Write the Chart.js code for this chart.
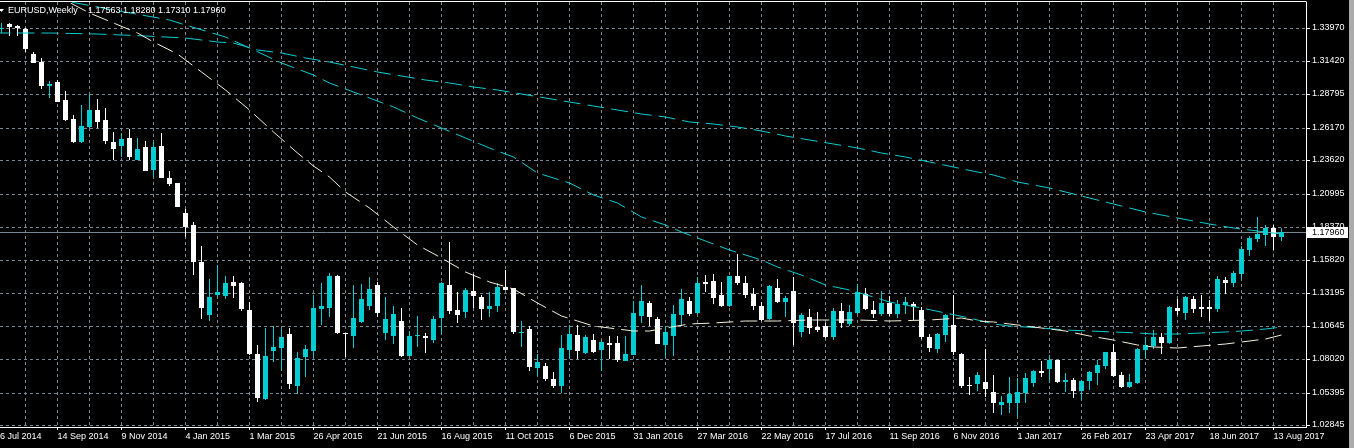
<!DOCTYPE html>
<html>
<head>
<meta charset="utf-8">
<title>EURUSD, Weekly</title>
<script src="https://cdn.jsdelivr.net/npm/chart.js@4.4.1/dist/chart.umd.min.js"></script>
<style>
    html, body { margin: 0; padding: 0; background: #000; overflow: hidden; }
    canvas { display: block; }
</style>
</head>
<body>
<canvas id="priceChart" width="1354" height="448"></canvas>
<script>
// symbol + tick labels
const symbolName = 'EURUSD,Weekly';
const firstDateLabel = '6 Jul 2014';
const dateLabels = ['14 Sep 2014', '9 Nov 2014', '4 Jan 2015', '1 Mar 2015', '26 Apr 2015', '21 Jun 2015',
    '16 Aug 2015', '11 Oct 2015', '6 Dec 2015', '31 Jan 2016', '27 Mar 2016', '22 May 2016', '17 Jul 2016',
    '11 Sep 2016', '6 Nov 2016', '1 Jan 2017', '26 Feb 2017', '23 Apr 2017', '18 Jun 2017', '13 Aug 2017'];
const priceLabels = ['1.33970', '1.31420', '1.28795', '1.26170', '1.23620', '1.20995', '1.18370',
    '1.15820', '1.13195', '1.10645', '1.08020', '1.05395', '1.02845'];

// weekly candles, first one = week of 27 Jul 2014
const openPrices = [
    1.3394, 1.3431, 1.3415, 1.3391, 1.3195, 1.3135, 1.2944, 1.2973, 1.2834, 1.2685,
    1.2507, 1.2625, 1.2756, 1.2678, 1.2503, 1.2476, 1.2536, 1.2364, 1.2468, 1.2285,
    1.2476, 1.2221, 1.2181, 1.1950, 1.1854, 1.1561, 1.1147, 1.1304, 1.1296, 1.1404,
    1.1399, 1.1187, 1.0839, 1.0488, 1.0865, 1.0891, 1.0998, 1.0590, 1.0820, 1.0868,
    1.1197, 1.1205, 1.1453, 1.1009, 1.0985, 1.1095, 1.1221, 1.1381, 1.1006, 1.0985,
    1.1100, 1.0828, 1.0985, 1.0980, 1.0954, 1.1126, 1.1383, 1.1187, 1.1169, 1.1336,
    1.1289, 1.1197, 1.1221, 1.1370, 1.1359, 1.1006, 1.1038, 1.0734, 1.0747, 1.0645,
    1.0593, 1.0875, 1.0991, 1.0852, 1.0951, 1.0875, 1.0928, 1.0928, 1.0789, 1.0836,
    1.1142, 1.1242, 1.1116, 1.0915, 1.0985, 1.1147, 1.1257, 1.1163, 1.1406, 1.1414,
    1.1304, 1.1221, 1.1453, 1.1399, 1.1312, 1.1218, 1.1119, 1.1359, 1.1252, 1.1336,
    1.1017, 1.1134, 1.1056, 1.1064, 1.0977, 1.1179, 1.1079, 1.1166, 1.1310, 1.1187,
    1.1158, 1.1242, 1.1158, 1.1228, 1.1234, 1.1187, 1.0977, 1.0883, 1.0993, 1.1071,
    1.0842, 1.0596, 1.0609, 1.0624, 1.0546, 1.0441, 1.0459, 1.0459, 1.0533, 1.0612,
    1.0708, 1.0722, 1.0794, 1.0624, 1.0638, 1.0554, 1.0627, 1.0695, 1.0750, 1.0857,
    1.0677, 1.0580, 1.0616, 1.0875, 1.0907, 1.0975, 1.0928, 1.1202, 1.1166, 1.1273,
    1.1213, 1.1213, 1.1197, 1.1422, 1.1399, 1.1469, 1.1658, 1.1744, 1.1775, 1.1830,
    1.17563
];
const highPrices = [
    1.3441, 1.3435, 1.3423, 1.3397, 1.3213, 1.3162, 1.2983, 1.2991, 1.2907, 1.2717,
    1.2793, 1.2882, 1.2840, 1.2770, 1.2581, 1.2578, 1.2607, 1.2534, 1.2513, 1.2507,
    1.2573, 1.2277, 1.2185, 1.1977, 1.1875, 1.1689, 1.1430, 1.1537, 1.1453, 1.1453,
    1.1406, 1.1252, 1.0912, 1.1043, 1.1061, 1.1036, 1.1043, 1.0857, 1.0912, 1.1304,
    1.1399, 1.1477, 1.1461, 1.1010, 1.1383, 1.1391, 1.1446, 1.1409, 1.1291, 1.1221,
    1.1205, 1.1024, 1.1142, 1.1006, 1.1142, 1.1403, 1.1723, 1.1330, 1.1362, 1.1469,
    1.1307, 1.1326, 1.1397, 1.1501, 1.1363, 1.1100, 1.1064, 1.0841, 1.0773, 1.0700,
    1.0993, 1.1069, 1.1069, 1.0991, 1.0998, 1.0951, 1.0985, 1.0983, 1.0983, 1.1257,
    1.1383, 1.1257, 1.1129, 1.1061, 1.1226, 1.1352, 1.1291, 1.1446, 1.1461, 1.1469,
    1.1406, 1.1457, 1.1626, 1.1453, 1.1359, 1.1249, 1.1383, 1.1430, 1.1296, 1.1446,
    1.1166, 1.1195, 1.1171, 1.1087, 1.1202, 1.1242, 1.1226, 1.1391, 1.1359, 1.1260,
    1.1336, 1.1296, 1.1265, 1.1289, 1.1249, 1.1213, 1.1001, 1.1009, 1.1155, 1.1304,
    1.0852, 1.0663, 1.0703, 1.0878, 1.0677, 1.0512, 1.0662, 1.0654, 1.0690, 1.0716,
    1.0787, 1.0834, 1.0798, 1.0695, 1.0651, 1.0638, 1.0708, 1.0794, 1.0861, 1.0920,
    1.0698, 1.0685, 1.0885, 1.0975, 1.1030, 1.1006, 1.1221, 1.1273, 1.1296, 1.1296,
    1.1304, 1.1265, 1.1453, 1.1446, 1.1493, 1.1689, 1.1767, 1.1916, 1.1854, 1.1854,
    1.18280
];
const lowPrices = [
    1.3358, 1.3337, 1.3337, 1.3213, 1.3125, 1.2918, 1.2852, 1.2818, 1.2672, 1.2499,
    1.2499, 1.2614, 1.2612, 1.2490, 1.2367, 1.2385, 1.2364, 1.2360, 1.2274, 1.2228,
    1.2219, 1.2160, 1.1991, 1.1757, 1.1461, 1.1116, 1.1103, 1.1291, 1.1273, 1.1283,
    1.1181, 1.0834, 1.0467, 1.0483, 1.0776, 1.0716, 1.0567, 1.0524, 1.0663, 1.0816,
    1.1072, 1.1134, 1.0998, 1.0821, 1.0891, 1.1085, 1.1189, 1.1134, 1.0951, 1.0922,
    1.0821, 1.0821, 1.0899, 1.0852, 1.0930, 1.1001, 1.1158, 1.1085, 1.1126, 1.1200,
    1.1111, 1.1134, 1.1174, 1.1340, 1.1001, 1.0899, 1.0711, 1.0671, 1.0627, 1.0572,
    1.0533, 1.0800, 1.0805, 1.0845, 1.0852, 1.0711, 1.0805, 1.0781, 1.0787, 1.0830,
    1.1087, 1.1064, 1.0918, 1.0818, 1.0828, 1.1064, 1.1142, 1.1155, 1.1328, 1.1236,
    1.1213, 1.1213, 1.1383, 1.1283, 1.1187, 1.1100, 1.1111, 1.1242, 1.1134, 1.0910,
    1.0977, 1.1001, 1.1017, 1.0969, 1.0954, 1.1048, 1.1064, 1.1158, 1.1184, 1.1126,
    1.1142, 1.1142, 1.1126, 1.1158, 1.1111, 1.0962, 1.0860, 1.0852, 1.0938, 1.0836,
    1.0577, 1.0522, 1.0554, 1.0502, 1.0377, 1.0361, 1.0377, 1.0345, 1.0455, 1.0585,
    1.0663, 1.0624, 1.0612, 1.0546, 1.0496, 1.0486, 1.0559, 1.0601, 1.0724, 1.0659,
    1.0575, 1.0575, 1.0610, 1.0812, 1.0881, 1.0842, 1.0922, 1.1147, 1.1111, 1.1166,
    1.1132, 1.1103, 1.1174, 1.1312, 1.1367, 1.1430, 1.1610, 1.1720, 1.1689, 1.1658,
    1.17310
];
const closePrices = [
    1.3399, 1.3405, 1.3399, 1.3235, 1.3127, 1.2944, 1.2960, 1.2821, 1.2678, 1.2507,
    1.2630, 1.2756, 1.2664, 1.2515, 1.2450, 1.2528, 1.2390, 1.2450, 1.2280, 1.2466,
    1.2225, 1.2175, 1.1997, 1.1840, 1.1566, 1.1205, 1.1291, 1.1326, 1.1399, 1.1377,
    1.1195, 1.0844, 1.0496, 1.0826, 1.0896, 1.0975, 1.0609, 1.0810, 1.0881, 1.1202,
    1.1221, 1.1453, 1.1004, 1.0996, 1.1124, 1.1273, 1.1352, 1.1163, 1.1116, 1.1155,
    1.0828, 1.0985, 1.0993, 1.0969, 1.1116, 1.1399, 1.1181, 1.1150, 1.1346, 1.1299,
    1.1197, 1.1221, 1.1370, 1.1346, 1.1014, 1.1014, 1.0742, 1.0779, 1.0648, 1.0593,
    1.0886, 1.0998, 1.0868, 1.0975, 1.0860, 1.0936, 1.0915, 1.0797, 1.0842, 1.1163,
    1.1257, 1.1134, 1.0922, 1.1014, 1.1155, 1.1273, 1.1158, 1.1399, 1.1391, 1.1283,
    1.1221, 1.1453, 1.1399, 1.1304, 1.1221, 1.1111, 1.1375, 1.1249, 1.1281, 1.1087,
    1.1147, 1.1048, 1.1032, 1.0977, 1.1179, 1.1085, 1.1171, 1.1326, 1.1195, 1.1158,
    1.1242, 1.1158, 1.1234, 1.1249, 1.1210, 1.0977, 1.0891, 1.1001, 1.1147, 1.0860,
    1.0593, 1.0590, 1.0677, 1.0565, 1.0455, 1.0462, 1.0525, 1.0543, 1.0654, 1.0708,
    1.0695, 1.0794, 1.0624, 1.0638, 1.0554, 1.0630, 1.0700, 1.0755, 1.0857, 1.0669,
    1.0580, 1.0622, 1.0881, 1.0912, 1.0975, 1.0930, 1.1210, 1.1179, 1.1289, 1.1195,
    1.1197, 1.1197, 1.1430, 1.1401, 1.1477, 1.1665, 1.1752, 1.1783, 1.1830, 1.1760,
    1.17960
];

// moving averages (week index -> value)
const maCreamWeeks = [6, 11, 14, 17, 19, 22, 25, 28, 31, 34, 37, 39, 41, 43, 46, 49, 52, 55, 58, 61,
    64, 67, 70, 72, 74, 77, 79, 81, 83, 86, 89, 93, 97, 101, 107, 111, 116, 120, 122, 124,
    126, 130, 133, 136, 139, 142, 144, 147, 150, 153, 155, 158, 160];
const maCream = [1.3682, 1.3513, 1.3436, 1.3358, 1.3292, 1.3193, 1.3056, 1.2913, 1.2756, 1.2586,
    1.2416, 1.2317, 1.2230, 1.2115, 1.1985, 1.1840, 1.1697, 1.1592, 1.1487, 1.1409,
    1.1351, 1.1239, 1.1140, 1.1103, 1.1064, 1.1038, 1.1022, 1.1024, 1.1043, 1.1075,
    1.1082, 1.1098, 1.1100, 1.1108, 1.1108, 1.1103, 1.1108, 1.1124, 1.1098, 1.1090,
    1.1075, 1.1048, 1.1024, 1.0985, 1.0951, 1.0912, 1.0899, 1.0891, 1.0904, 1.0920,
    1.0933, 1.0959, 1.0991];
const maFastWeeks = [3, 8, 14, 21, 23, 28, 31, 35, 39, 41, 43, 46, 49, 52, 55, 58, 61, 64, 67, 71,
    74, 77, 80, 83, 85, 88, 91, 95, 97, 100, 103, 106, 109, 111, 115, 118, 121, 124, 126, 130,
    133, 136, 139, 142, 144, 147, 150, 153, 155, 158, 160];
const maFast = [1.3697, 1.3608, 1.3541, 1.3462, 1.3423, 1.3331, 1.3240, 1.3122, 1.3031, 1.2965,
    1.2918, 1.2848, 1.2777, 1.2691, 1.2612, 1.2534, 1.2455, 1.2385, 1.2259, 1.2181,
    1.2089, 1.2024, 1.1919, 1.1854, 1.1801, 1.1728, 1.1658, 1.1579, 1.1527, 1.1461,
    1.1383, 1.1344, 1.1291, 1.1252, 1.1200, 1.1161, 1.1122, 1.1075, 1.1061, 1.1043,
    1.1030, 1.1024, 1.1014, 1.1004, 1.0998, 1.0996, 1.1006, 1.1012, 1.1024, 1.1038,
    1.1056];
const maSlowWeeks = [-1, 6, 12, 18, 23, 27, 29, 32, 35, 38, 41, 44, 47, 50, 53, 56, 59, 62, 65, 68,
    71, 74, 77, 80, 83, 86, 89, 92, 95, 98, 101, 104, 107, 110, 113, 116, 119, 122, 124, 127,
    131, 135, 139, 143, 147, 151, 154, 157, 160];
const maSlow = [1.3358, 1.3358, 1.3350, 1.3337, 1.3318, 1.3292, 1.3279, 1.3227, 1.3201, 1.3162,
    1.3135, 1.3091, 1.3056, 1.3023, 1.2991, 1.2970, 1.2939, 1.2913, 1.2881, 1.2848,
    1.2819, 1.2790, 1.2756, 1.2725, 1.2699, 1.2664, 1.2644, 1.2620, 1.2591, 1.2554,
    1.2521, 1.2489, 1.2455, 1.2421, 1.2390, 1.2350, 1.2311, 1.2267, 1.2246, 1.2193,
    1.2142, 1.2083, 1.2016, 1.1958, 1.1906, 1.1859, 1.1828, 1.1807, 1.1783];

document.addEventListener('DOMContentLoaded', function() {
    const BULL = '#00ced1';
    const BEAR = '#ffffff';
    const GRID = '#778899';
    const FONT = { family: '"Liberation Sans", Arial, sans-serif', size: 9 };

    // visible range of the window (week index / price)
    const X_MIN = -0.1875;
    const X_MAX = 163.0625;
    const Y_MIN = 1.0269;
    const Y_MAX = 1.3603;

    const weeks = openPrices.map((_, i) => i);
    const candleColors = weeks.map(i => closePrices[i] >= openPrices[i] ? BULL : BEAR);

    function isDateTick(v) {
        return v >= 7 && (v - 7) % 8 === 0;
    }

    function dateTickLabel(v) {
        if (v === X_MIN) return firstDateLabel;
        if (isDateTick(v)) return dateLabels[(v - 7) / 8] || '';
        return '';
    }

    function maLine(xs, ys, color) {
        return {
            type: 'line',
            data: xs.map((x, k) => ({ x: x, y: ys[k] })),
            borderColor: color,
            borderWidth: 1,
            borderDash: [17, 7],
            pointRadius: 0,
            tension: 0,
            order: 0
        };
    }

    // price line, price tag, header, frame
    const terminalLook = {
        id: 'terminalLook',
        beforeDatasetsDraw(chart) {
            const { ctx, chartArea: a, scales: { y } } = chart;
            const py = Math.round(y.getPixelForValue(closePrices[closePrices.length - 1])) + 0.5;
            ctx.save();
            ctx.strokeStyle = GRID;
            ctx.lineWidth = 1;
            ctx.beginPath();
            ctx.moveTo(a.left, py);
            ctx.lineTo(a.right, py);
            ctx.stroke();
            ctx.restore();
        },
        afterDraw(chart) {
            const { ctx, chartArea: a, scales: { y } } = chart;
            const last = closePrices.length - 1;
            const py = Math.round(y.getPixelForValue(closePrices[last])) + 0.5;
            ctx.save();

            // top frame line
            ctx.strokeStyle = '#ffffff';
            ctx.lineWidth = 1;
            ctx.beginPath();
            ctx.moveTo(a.left, 1.5);
            ctx.lineTo(a.right + 0.5, 1.5);
            ctx.stroke();

            // current price tag
            ctx.fillStyle = '#ffffff';
            ctx.fillRect(a.right + 1, py - 5.5, 41, 11);
            ctx.fillStyle = '#000000';
            ctx.font = FONT.size + 'px ' + FONT.family;
            ctx.textBaseline = 'middle';
            ctx.textAlign = 'left';
            ctx.fillText(closePrices[last].toFixed(5), a.right + 6, py + 0.5);

            // header
            ctx.fillStyle = '#ffffff';
            ctx.beginPath();
            ctx.moveTo(-1, 9);
            ctx.lineTo(4, 9);
            ctx.lineTo(1.5, 12);
            ctx.closePath();
            ctx.fill();
            ctx.fillText(symbolName, 8, 10.5);
            const ohlc = [openPrices[last], highPrices[last], lowPrices[last], closePrices[last]]
                .map(v => v.toFixed(5)).join(' ');
            ctx.fillText(ohlc, 88, 10.5);

            // scrollbar strip at the right edge
            ctx.fillStyle = '#ababab';
            ctx.fillRect(chart.width - 5, 0, 5, chart.height);
            ctx.restore();
        }
    };

    const ctx = document.getElementById('priceChart').getContext('2d');
    new Chart(ctx, {
        data: {
            datasets: [
                maLine(maCreamWeeks, maCream, '#f5efd8'),
                maLine(maFastWeeks, maFast, BULL),
                maLine(maSlowWeeks, maSlow, BULL),
                {
                    type: 'bar',
                    data: weeks.map(i => ({ x: i, y: [openPrices[i], closePrices[i]] })),
                    backgroundColor: candleColors,
                    barThickness: 5,
                    minBarLength: 1,
                    grouped: false,
                    inflateAmount: 0,
                    borderWidth: 0,
                    order: 1
                },
                {
                    type: 'bar',
                    data: weeks.map(i => ({ x: i, y: [lowPrices[i], highPrices[i]] })),
                    backgroundColor: candleColors,
                    barThickness: 1,
                    grouped: false,
                    inflateAmount: 0,
                    borderWidth: 0,
                    order: 2
                }
            ]
        },
        options: {
            responsive: false,
            animation: false,
            events: [],
            layout: { padding: { left: 0, right: 0, top: 2, bottom: 0 } },
            plugins: {
                legend: { display: false },
                tooltip: { enabled: false }
            },
            scales: {
                x: {
                    type: 'linear',
                    min: X_MIN,
                    max: X_MAX,
                    offset: false,
                    afterBuildTicks: function(scale) {
                        const ticks = [{ value: X_MIN }];
                        for (let v = 3; v <= 160; v += 4) ticks.push({ value: v });
                        scale.ticks = ticks;
                    },
                    afterFit: function(scale) {
                        scale.height = 21;
                        scale.paddingLeft = 0;
                        scale.paddingRight = 0;
                    },
                    grid: {
                        offset: false,
                        color: c => (c.tick && c.tick.value === X_MIN) ? 'transparent' : GRID,
                        lineWidth: 1,
                        drawTicks: true,
                        tickLength: 3,
                        tickWidth: 1,
                        tickBorderDash: [],
                        tickColor: c => (c.tick && isDateTick(c.tick.value)) ? '#ffffff' : 'transparent'
                    },
                    border: { display: true, color: '#ffffff', width: 1, dash: [3, 3] },
                    ticks: {
                        color: '#ffffff',
                        font: FONT,
                        padding: 1,
                        align: 'start',
                        maxRotation: 0,
                        autoSkip: false,
                        callback: v => dateTickLabel(v)
                    }
                },
                y: {
                    type: 'linear',
                    position: 'right',
                    min: Y_MIN,
                    max: Y_MAX,
                    alignToPixels: true,
                    afterBuildTicks: function(scale) {
                        scale.ticks = priceLabels.map(t => ({ value: parseFloat(t) }));
                    },
                    afterFit: function(scale) {
                        scale.width = 48;
                        scale.paddingTop = 0;
                        scale.paddingBottom = 0;
                    },
                    grid: {
                        color: GRID,
                        lineWidth: 1,
                        drawTicks: true,
                        tickLength: 4,
                        tickWidth: 1,
                        tickBorderDash: [],
                        tickColor: '#ffffff'
                    },
                    border: { display: true, color: '#ffffff', width: 1, dash: [3, 3] },
                    ticks: {
                        color: '#ffffff',
                        font: FONT,
                        padding: 2,
                        autoSkip: false,
                        callback: (v, idx) => priceLabels[idx]
                    }
                }
            }
        },
        plugins: [terminalLook]
    });
});
</script>
</body>
</html>
